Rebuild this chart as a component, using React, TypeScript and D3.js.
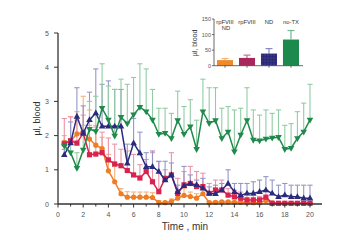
import React from "react";
import * as d3 from "d3";

const time = [0.5,1,1.5,2,2.5,3,3.5,4,4.5,5,5.5,6,6.5,7,7.5,8,8.5,9,9.5,10,10.5,11,11.5,12,12.5,13,13.5,14,14.5,15,15.5,16,16.5,17,17.5,18,18.5,19,19.5,20];

const orangeVals = [1.8,1.85,2.05,2.08,1.9,1.72,1.62,0.97,0.65,0.3,0.2,0.2,0.2,0.2,0.19,0.04,0.04,0.07,0.17,0.25,0.22,0.17,0.3,0.04,0.05,0.06,0.06,0.05,0.05,0.04,0.04,0.04,0.1,0.03,0.02,0.02,0.02,0.02,0.02,0.02];
const orangeHi = [2.0,2.55,2.7,3.15,2.75,2.3,1.95,1.45,1.1,0.45,0.36,0.35,0.35,0.35,0.33,0.1,0.08,0.15,0.3,0.45,0.35,0.3,0.45,0.08,0.08,0.09,0.09,0.08,0.08,0.07,0.07,0.07,0.14,0.05,0.03,0.03,0.03,0.03,0.03,0.03];

const redVals = [1.76,1.85,1.78,2.07,1.44,1.46,1.5,1.29,1.17,1.12,0.98,0.85,0.76,0.95,0.65,0.36,0.75,0.85,0.31,0.56,0.6,0.51,0.51,0.31,0.41,0.41,0.26,0.21,0.17,0.12,0.12,0.12,0.2,0.02,0.02,0.02,0.02,0.02,0.02,0.02];
const redHi = [2.5,2.55,2.45,2.6,2.3,2.25,2.1,1.93,1.75,1.6,1.55,1.45,1.15,1.3,1.5,1.24,1.0,1.5,0.75,0.95,1.1,0.95,0.9,0.6,0.7,0.7,0.45,0.4,0.35,0.3,0.25,0.22,0.4,0.05,0.05,0.05,0.05,0.05,0.05,0.05];

const blueVals = [1.44,1.78,2.56,2.07,2.46,2.66,2.27,2.27,2.27,2.27,1.19,1.78,1.49,1.09,1.09,0.95,0.7,0.85,0.36,0.53,0.6,0.56,0.46,0.31,0.3,0.41,0.6,0.36,0.26,0.31,0.31,0.36,0.41,0.31,0.21,0.26,0.21,0.21,0.17,0.17];
const blueHi = [1.6,2.4,3.4,2.87,3.27,3.95,3.5,3.6,3.35,3.35,1.75,2.5,2.1,1.5,1.55,1.25,1.25,1.2,0.55,1.1,0.85,0.7,0.75,0.5,0.55,0.6,1.0,0.6,0.6,0.6,0.65,0.7,0.8,0.7,0.55,0.6,0.55,0.55,0.55,0.55];

const greenVals = [1.7,1.5,1.05,1.58,2.19,2.12,2.8,2.46,1.99,2.54,2.35,2.61,2.83,2.7,2.46,2.04,2.07,1.92,2.44,2.04,2.26,1.6,2.7,2.36,2.44,1.92,2.11,1.53,2.02,2.44,1.87,1.85,1.9,1.93,1.95,1.6,1.63,1.92,2.11,2.46];
const greenHi = [1.85,1.85,1.5,2.3,3.0,3.15,4.1,3.45,3.35,3.65,3.5,3.7,4.1,3.95,3.35,2.8,2.8,2.65,3.3,2.85,3.05,2.45,3.65,3.4,3.4,2.8,2.85,2.75,2.8,3.4,2.75,2.6,2.75,2.65,2.75,2.3,2.35,2.7,2.95,3.5];

const xTicks = [0,2,4,6,8,10,12,14,16,18,20];
const xMinor = [1,3,5,7,9,11,13,15,17,19];
const yTicks = [0,1,2,3,4,5];

const insetCats = ["rpFVIII|ND", "rpFVIII", "ND", "no-TX"];
const insetVals = [18, 25, 39, 84];
const insetErr = [23, 34, 55, 113];
const insetTicks = [0, 50, 100, 150];

const FONT = "Liberation Sans, Arial, sans-serif";

type Series = { vals: number[]; hi: number[]; color: string; light: string; shape: string };

const series: Series[] = [
  { vals: orangeVals, hi: orangeHi, color: "#ee7d24", light: "#f5b27c", shape: "circle" },
  { vals: redVals, hi: redHi, color: "#d8234f", light: "#ec94a8", shape: "square" },
  { vals: blueVals, hi: blueHi, color: "#2b2b7d", light: "#9596c8", shape: "up" },
  { vals: greenVals, hi: greenHi, color: "#1f8a4b", light: "#92cca5", shape: "down" },
];
const insetColors = ["#ef8a2c", "#a8285e", "#2c2a76", "#1b8a4c"];
const insetLight = ["#f5b27c", "#c9708f", "#8a89c0", "#72b98e"];

function Marker({ shape, x, y, color }: { shape: string; x: number; y: number; color: string }) {
  if (shape === "circle") return <circle cx={x} cy={y} r={2.6} fill={color} />;
  if (shape === "square") return <rect x={x - 2.6} y={y - 2.6} width={5.2} height={5.2} fill={color} />;
  if (shape === "up") return <path d={`M${x},${y - 3.6}L${x + 3.3},${y + 2.2}L${x - 3.3},${y + 2.2}Z`} fill={color} />;
  return <path d={`M${x},${y + 3.6}L${x + 3.3},${y - 2.2}L${x - 3.3},${y - 2.2}Z`} fill={color} />;
}

export default function App() {
  const x = d3.scaleLinear().domain([0, 20]).range([58, 310]);
  const y = d3.scaleLinear().domain([0, 5]).range([204, 33]);
  const line = d3.line<number>().x((_, i) => x(time[i])).y((v) => y(v));

  const ib = d3.scaleBand<string>().domain(insetCats).range([214, 302]).paddingInner(0.27).paddingOuter(0.136);
  const iy = d3.scaleLinear().domain([0, 150]).range([65.7, 19]);

  return (
    <svg width={350} height={240} style={{ position: "absolute", left: 0, top: 0, background: "#fff" }} fontFamily={FONT}>
      <defs>
        <pattern id="dots" width="3" height="3" patternUnits="userSpaceOnUse">
          <rect width="3" height="3" fill="#2c2a76" />
          <circle cx="1" cy="1" r="0.5" fill="#8b8ad0" opacity="0.6" />
        </pattern>
      </defs>

      {/* error bars */}
      {series.map((s, si) => (
        <g key={"e" + si} stroke={s.light} strokeWidth={1.1} fill="none">
          {s.vals.map((v, i) => (
            <g key={i}>
              <line x1={x(time[i])} x2={x(time[i])} y1={y(v)} y2={y(s.hi[i])} />
              <line x1={x(time[i]) - 2.6} x2={x(time[i]) + 2.6} y1={y(s.hi[i])} y2={y(s.hi[i])} />
            </g>
          ))}
        </g>
      ))}

      {/* lines and markers */}
      {series.map((s, si) => (
        <g key={"l" + si}>
          <path d={line(s.vals) || ""} fill="none" stroke={s.color} strokeWidth={1.5} />
          {s.vals.map((v, i) => (
            <Marker key={i} shape={s.shape} x={x(time[i])} y={y(v)} color={s.color} />
          ))}
        </g>
      ))}

      {/* main axes */}
      <line x1={x(0)} x2={x(0)} y1={y(5)} y2={y(0)} stroke="#333" strokeWidth={1.3} />
      <line x1={x(0)} x2={322} y1={y(0)} y2={y(0)} stroke="#333" strokeWidth={1.3} />
      {yTicks.map((t) => (
        <g key={"yt" + t}>
          <line x1={x(0) - 4} x2={x(0)} y1={y(t)} y2={y(t)} stroke="#333" strokeWidth={1} />
          <text x={x(0) - 11} y={y(t) + 2.5} fontSize={7} fill="#555" textAnchor="middle">{t}</text>
        </g>
      ))}
      {xTicks.map((t) => (
        <g key={"xt" + t}>
          <line x1={x(t)} x2={x(t)} y1={y(0)} y2={y(0) + 3.5} stroke="#333" strokeWidth={1} />
          <text x={x(t)} y={216.5} fontSize={7} fill="#555" textAnchor="middle">{t}</text>
        </g>
      ))}
      {xMinor.map((t) => (
        <line key={"xm" + t} x1={x(t)} x2={x(t)} y1={y(0)} y2={y(0) + 2.5} stroke="#333" strokeWidth={1} />
      ))}
      <text x={185} y={230} fontSize={10} fill="#333" textAnchor="middle">Time , min</text>
      <text transform="translate(40,118.5) rotate(-90)" fontSize={9} fill="#333" textAnchor="middle">µl, blood</text>

      {/* inset */}
      {insetCats.map((c, i) => {
        const bx = ib(c)!;
        const bw = ib.bandwidth();
        const cx = bx + bw / 2;
        const lines = c.split("|");
        return (
          <g key={"ib" + i}>
            <line x1={cx} x2={cx} y1={iy(insetVals[i])} y2={iy(insetErr[i])} stroke={insetLight[i]} strokeWidth={1.2} />
            <line x1={cx - 3.5} x2={cx + 3.5} y1={iy(insetErr[i])} y2={iy(insetErr[i])} stroke={insetLight[i]} strokeWidth={1.2} />
            <rect x={bx} y={iy(insetVals[i])} width={bw} height={iy(0) - iy(insetVals[i])} fill={i === 2 ? "url(#dots)" : insetColors[i]} />
            <line x1={cx} x2={cx} y1={iy(0)} y2={iy(0) + 2} stroke="#444" strokeWidth={0.8} />
            {lines.map((l, k) => (
              <text key={k} x={k === 0 ? cx : cx + 1} y={23.5 + k * 6.5} fontSize={5.8} fill="#333" textAnchor="middle">{l}</text>
            ))}
          </g>
        );
      })}
      <line x1={214} x2={214} y1={iy(150)} y2={iy(0)} stroke="#444" strokeWidth={0.8} />
      <line x1={214} x2={303} y1={iy(0)} y2={iy(0)} stroke="#444" strokeWidth={0.8} />
      {insetTicks.map((t) => (
        <g key={"it" + t}>
          <line x1={212} x2={214} y1={iy(t)} y2={iy(t)} stroke="#444" strokeWidth={0.8} />
          <text x={211} y={iy(t) + 2} fontSize={5.5} fill="#555" textAnchor="end">{t}</text>
        </g>
      ))}
      <text transform="translate(197,43) rotate(-90)" fontSize={7} fill="#333" textAnchor="middle">µl, blood</text>
    </svg>
  );
}
